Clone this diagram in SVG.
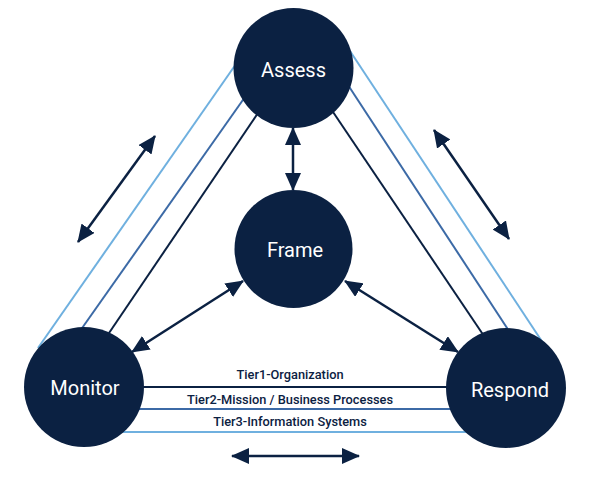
<svg xmlns="http://www.w3.org/2000/svg" width="590" height="489" viewBox="0 0 590 489">
<style>
.node{fill:#0b2142}
.lbl{fill:#ffffff;font-family:Roboto,"Liberation Sans",sans-serif;font-size:20px;text-anchor:middle;dominant-baseline:central}
.tier{fill:#0b2142;font-family:Roboto,"Liberation Sans",sans-serif;font-size:12.8px;font-weight:500;text-anchor:middle}
.dark{stroke:#0b2142;stroke-width:2;fill:none}
.mid{stroke:#3c6aa6;stroke-width:2;fill:none}
.light{stroke:#6fb0df;stroke-width:2;fill:none}
.arr{stroke:#0b2142;stroke-width:2.5;fill:none;marker-start:url(#ah);marker-end:url(#ah)}
</style>
<defs>
<marker id="ah" viewBox="0 0 18 16" refX="17" refY="8" markerWidth="18" markerHeight="16" markerUnits="userSpaceOnUse" orient="auto-start-reverse">
<path d="M0,0 L18,8 L0,16 Z" fill="#0b2142"/>
</marker>
</defs>
<rect width="590" height="489" fill="#ffffff"/>
<g id="connectors">
<line class="light" x1="38" y1="348" x2="236" y2="64"/>
<line class="mid" x1="80" y1="331" x2="245" y2="97"/>
<line class="dark" x1="107" y1="336" x2="258" y2="113"/>
<line class="light" x1="350" y1="51" x2="545" y2="346"/>
<line class="mid" x1="348" y1="85" x2="509" y2="331"/>
<line class="dark" x1="331" y1="109" x2="484" y2="336"/>
<line class="dark" x1="130" y1="387" x2="460" y2="387"/>
<line class="mid" x1="120" y1="409" x2="470" y2="409"/>
<line class="light" x1="110" y1="432" x2="480" y2="432"/>
<line class="arr" x1="293" y1="128" x2="293" y2="190"/>
<line class="arr" x1="243" y1="281" x2="132" y2="352"/>
<line class="arr" x1="345" y1="281" x2="458" y2="352"/>
<line class="arr" x1="155" y1="136" x2="78" y2="242"/>
<line class="arr" x1="434" y1="130" x2="509" y2="239"/>
<line class="arr" x1="232" y1="456" x2="359" y2="456"/>
</g>
<g id="assess"><circle class="node" cx="293.5" cy="68" r="60"/><text class="lbl" x="293.5" y="70">Assess</text></g>
<g id="frame"><circle class="node" cx="293.5" cy="249" r="59"/><text class="lbl" x="295" y="250">Frame</text></g>
<g id="monitor"><circle class="node" cx="84" cy="387" r="60"/><text class="lbl" x="85" y="388">Monitor</text></g>
<g id="respond"><circle class="node" cx="506" cy="388" r="60"/><text class="lbl" x="510" y="390">Respond</text></g>
<g id="tiers">
<text class="tier" x="290" y="379">Tier1-Organization</text>
<text class="tier" x="290" y="404">Tier2-Mission / Business Processes</text>
<text class="tier" x="290" y="426">Tier3-Information Systems</text>
</g>
</svg>
